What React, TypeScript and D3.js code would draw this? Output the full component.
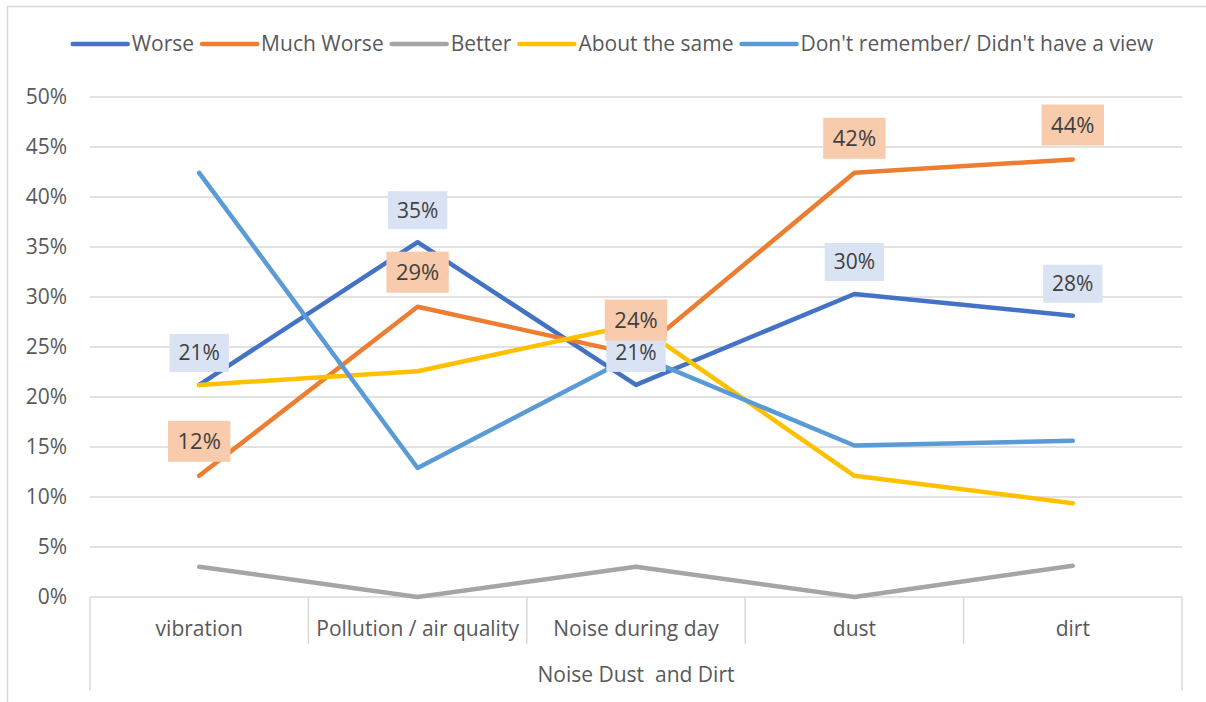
import React, { useEffect, useRef } from "react";
import * as d3 from "d3";

const categories = ["vibration", "Pollution / air quality", "Noise during day", "dust", "dirt"];
const groupLabel = "Noise Dust  and Dirt";
const seriesNames = ["Worse", "Much Worse", "Better", "About the same", "Don't remember/ Didn't have a view"];
const worse = [21.21, 35.48, 21.21, 30.3, 28.13];
const muchWorse = [12.12, 29.03, 24.24, 42.42, 43.75];
const better = [3.03, 0, 3.03, 0, 3.13];
const aboutSame = [21.21, 22.58, 27.27, 12.12, 9.38];
const dontRemember = [42.42, 12.9, 24.24, 15.15, 15.63];
const yTicks = [0, 5, 10, 15, 20, 25, 30, 35, 40, 45, 50];
const colors = ["#4472C4", "#ED7D31", "#A5A5A5", "#FFC000", "#5B9BD5"];
const labelFills = ["#DAE3F3", "#F8CBAD"];

const W = 1206;
const H = 702;
const FONT = "'Open Sans', sans-serif";
const FS = 21;

export default function App() {
  const ref = useRef<SVGSVGElement>(null);
  useEffect(() => {
    const svg = d3.select(ref.current);
    svg.selectAll("*").remove();
    const series = [worse, muchWorse, better, aboutSame, dontRemember];

    const x0 = 90, x1 = 1182, yBottom = 597, yTop = 97;
    const x = d3.scaleBand<string>().domain(categories).range([x0, x1]).paddingInner(0).paddingOuter(0);
    const y = d3.scaleLinear().domain([0, 50]).range([yBottom, yTop]);
    const cx = (c: string) => (x(c) as number) + x.bandwidth() / 2;

    // outer border
    svg.append("rect").attr("x", 7.5).attr("y", 6.5).attr("width", W + 10).attr("height", H + 10)
      .attr("fill", "white").attr("stroke", "#d9d9d9").attr("stroke-width", 1.5);

    // gridlines
    svg.append("g").selectAll("line").data(yTicks.filter((t) => t > 0)).join("line")
      .attr("x1", x0).attr("x2", x1).attr("y1", (d) => y(d)).attr("y2", (d) => y(d))
      .attr("stroke", "#d9d9d9").attr("stroke-width", 1.5);

    // y labels
    svg.append("g").selectAll("text").data(yTicks).join("text")
      .attr("x", 67).attr("y", (d) => y(d)).attr("dy", "0.35em").attr("text-anchor", "end")
      .attr("font-family", FONT).attr("font-size", FS).attr("fill", "#595959")
      .text((d) => d3.format(".0%")(d / 100));

    // x axis line
    svg.append("line").attr("x1", x0).attr("x2", x1).attr("y1", yBottom).attr("y2", yBottom)
      .attr("stroke", "#d9d9d9").attr("stroke-width", 1.5);
    // separators
    const bounds = categories.map((c) => x(c) as number).concat([x1]);
    svg.append("g").selectAll("line").data(bounds).join("line")
      .attr("x1", (d) => d).attr("x2", (d) => d).attr("y1", yBottom)
      .attr("y2", (d, i) => (i === 0 || i === bounds.length - 1 ? 691 : 644))
      .attr("stroke", "#d9d9d9").attr("stroke-width", 1.5);

    // category labels
    svg.append("g").selectAll("text").data(categories).join("text")
      .attr("x", (d) => cx(d)).attr("y", 629).attr("dy", "0.35em").attr("text-anchor", "middle")
      .attr("font-family", FONT).attr("font-size", FS).attr("fill", "#595959").text((d) => d);
    svg.append("text").attr("x", (x0 + x1) / 2).attr("y", 675).attr("dy", "0.35em")
      .attr("text-anchor", "middle").attr("font-family", FONT).attr("font-size", FS)
      .attr("fill", "#595959").attr("xml:space", "preserve").style("white-space", "pre").text(groupLabel);

    // lines
    const line = d3.line<number>().x((_, i) => cx(categories[i])).y((d) => y(d));
    series.forEach((s, si) => {
      svg.append("path").datum(s).attr("d", line).attr("fill", "none").attr("stroke", colors[si])
        .attr("stroke-width", 4.5).attr("stroke-linecap", "round").attr("stroke-linejoin", "round");
    });

    // data labels for Worse and Much Worse
    const labelCfg = [
      { s: worse, fill: labelFills[0], size: 21, padX: 9, h: 38, off: 32 },
      { s: muchWorse, fill: labelFills[1], size: 22, padX: 9.5, h: 41, off: 34.5 },
    ];
    labelCfg.forEach((cfg) => {
      cfg.s.forEach((v, i) => {
        const px = cx(categories[i]);
        const cy = y(v) - cfg.off;
        const g = svg.append("g");
        const rect = g.append("rect").attr("fill", cfg.fill);
        const t = g.append("text").attr("x", px).attr("y", cy).attr("dy", "0.35em")
          .attr("text-anchor", "middle").attr("font-family", FONT).attr("font-size", cfg.size)
          .attr("fill", "#404040").text(d3.format(".0%")(v / 100));
        const tw = (t.node() as SVGTextElement).getComputedTextLength();
        const bw = tw + cfg.padX * 2;
        rect.attr("x", px - bw / 2).attr("y", cy - cfg.h / 2).attr("width", bw).attr("height", cfg.h);
      });
    });

    // legend
    const lg = svg.append("g");
    let cur = 0;
    const lineLen = 55, gapText = 4, gapItem = 8, ly = 44;
    seriesNames.forEach((name, i) => {
      lg.append("line").attr("x1", cur).attr("x2", cur + lineLen).attr("y1", ly).attr("y2", ly)
        .attr("stroke", colors[i]).attr("stroke-width", 4.5).attr("stroke-linecap", "round");
      const t = lg.append("text").attr("x", cur + lineLen + gapText).attr("y", ly).attr("dy", "0.35em")
        .attr("font-family", FONT).attr("font-size", FS).attr("fill", "#595959").text(name);
      const tw = (t.node() as SVGTextElement).getComputedTextLength();
      cur += lineLen + gapText + tw + gapItem;
    });
    const total = cur - gapItem;
    lg.attr("transform", `translate(${613 - total / 2},0)`);
  }, []);

  return (
    <svg ref={ref} width={W} height={H} style={{ position: "absolute", left: 0, top: 0, display: "block" }} />
  );
}
